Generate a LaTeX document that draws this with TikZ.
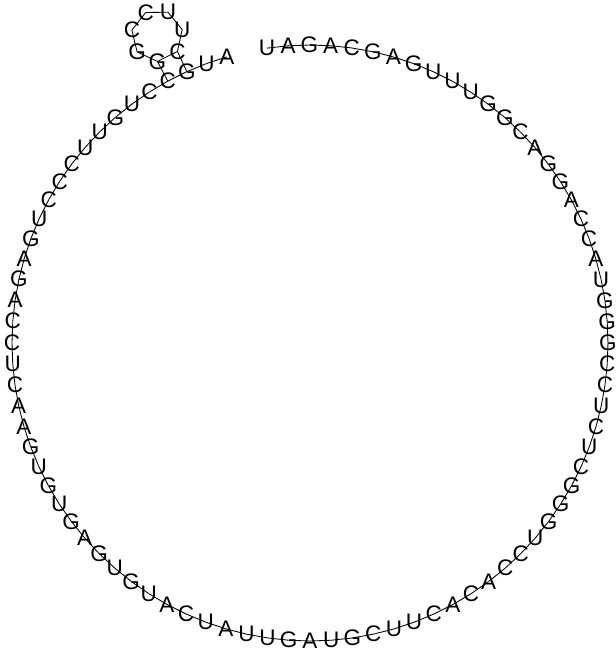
\documentclass[tikz,border=0pt]{standalone}
\usepackage{fontspec}
\setmainfont{Liberation Sans}
\begin{document}
\begin{tikzpicture}[x=0.025cm, y=0.025cm,
    nuc/.style={font=\fontsize{16}{18}\selectfont, inner sep=0pt},
    link/.style={line width=0.6pt, black}]
        % picture frame
        \useasboundingbox (-310,-311) rectangle (306,343);

        % Outer loop (placed on a circle)
        \foreach \b [count=\i] in {U,A,G,A,C,G,A,G,U,U,
                                   U,G,G,C,A,G,G,A,C,C,
                                   A,U,G,G,G,C,C,U,C,U,
                                   C,G,G,G,U,C,C,A,C,A,
                                   C,U,U,C,G,U,A,G,U,U,
                                   A,U,C,A,U,G,U,G,A,G,
                                   U,G,U,G,A,A,C,U,C,C,
                                   A,G,A,G,U,C,C,C,U,U,
                                   G,U,C,C,G,U,A} {
            \pgfmathsetmacro\ang{98.3-(\i-1)*4.094}
            \node[nuc] (n\i) at (\ang:298) {\b};
        }

        % Hairpin (stem of two pairs, loop of five)
        \coordinate (loopc) at (-152.9,307.4);
        \foreach \b/\a [count=\k] in {G/270.7, G/219.3, C/167.8, C/116.4, U/65, U/13.5, C/322.1} {
            \node[nuc] (h\k) at ([shift={(\a:25.8)}]loopc) {\b};
        }

        % Backbone
        \foreach \i in {1,...,86} {
            \pgfmathtruncatemacro\j{\i+1}
            \draw[link] (n\i.center) -- (n\j.center);
        }
        \draw[link] (n84.center) -- (h1.center) -- (h2.center) -- (h3.center) -- (h4.center)
                    -- (h5.center) -- (h6.center) -- (h7.center) -- (n85.center);

        % Base pair
        \draw[link] (h1.center) -- (h7.center);

    \end{tikzpicture}
\end{document}
